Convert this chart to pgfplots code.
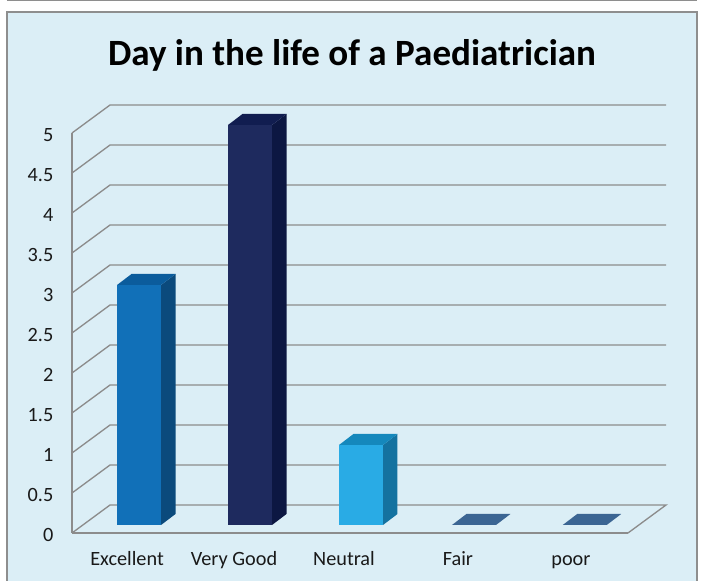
\documentclass[border=0pt]{standalone}
\usepackage{fontspec}
\setmainfont{Carlito}
\usepackage{pgfplots}
\pgfplotsset{compat=1.18}
\definecolor{panel}{HTML}{DBEEF6}
\definecolor{edge}{HTML}{8E8E8E}
\definecolor{gridc}{HTML}{8C8C8C}
\definecolor{excF}{HTML}{1170B8}
\definecolor{excS}{HTML}{0B4A7C}
\definecolor{excT}{HTML}{0B5C9C}
\definecolor{vgF}{HTML}{1E2A5E}
\definecolor{vgS}{HTML}{0C1742}
\definecolor{vgT}{HTML}{111D50}
\definecolor{neuF}{HTML}{29ABE5}
\definecolor{neuS}{HTML}{1472A0}
\definecolor{neuT}{HTML}{1588BC}
\definecolor{flat}{HTML}{3B6593}
\pgfplotsset{
  gl/.style={gridc, line width=1pt},
  face/.style={fill=#1, draw=none},
}
\begin{document}
\begin{tikzpicture}[x=1pt,y=1pt]
% 1px = 0.75pt, axis origin sits at pixel (72,533)
\path[use as bounding box] (-54,-36) rectangle (474,399.75);
\fill[white] (-54,-36) rectangle (474,399.75);
\draw[edge, line width=1.1pt, fill=panel] (-48.75,-45) rectangle (468.75,390.75);
\draw[edge, line width=1pt] (-48.75,399.2) -- (468.75,399.2);
\begin{axis}[
  at={(0,0)}, anchor=origin,
  scale only axis, width=417pt, height=300pt,
  xmin=0, xmax=5, ymin=0, ymax=5,
  clip=false,
  axis x line*=bottom, axis y line*=left,
  axis line style={gridc, line width=1.1pt, -},
  major tick length=0pt,
  xtick={0.495,1.457,2.446,3.47,4.487},
  xticklabels={Excellent,Very Good,Neutral,Fair,poor},
  ytick={0,0.5,1,1.5,2,2.5,3,3.5,4,4.5,5},
  yticklabels={0,0.5,1,1.5,2,2.5,3,3.5,4,4.5,5},
  /pgf/number format/assume math mode=true,
  tick label style={font=\fontsize{15.2}{18}\selectfont, text=black!90},
  xticklabel style={text height=10pt, text depth=3pt, yshift=-10.5pt},
  yticklabel style={xshift=-10.5pt, yshift=-1.75pt},
  title={\fontsize{27.8}{32}\selectfont\bfseries Day in the life of a Paediatrician},
  title style={at={(axis description cs:0.5036,1.175)}, anchor=center},
]
% back wall and floor lines
\addplot[gl] coordinates {(0,0) (0.342,0.35) (5.342,0.35) (5,0)};
\addplot[gl] coordinates {(0,0.5) (0.342,0.85) (5.342,0.85)};
\addplot[gl] coordinates {(0,1) (0.342,1.35) (5.342,1.35)};
\addplot[gl] coordinates {(0,1.5) (0.342,1.85) (5.342,1.85)};
\addplot[gl] coordinates {(0,2) (0.342,2.35) (5.342,2.35)};
\addplot[gl] coordinates {(0,2.5) (0.342,2.85) (5.342,2.85)};
\addplot[gl] coordinates {(0,3) (0.342,3.35) (5.342,3.35)};
\addplot[gl] coordinates {(0,3.5) (0.342,3.85) (5.342,3.85)};
\addplot[gl] coordinates {(0,4) (0.342,4.35) (5.342,4.35)};
\addplot[gl] coordinates {(0,4.5) (0.342,4.85) (5.342,4.85)};
\addplot[gl] coordinates {(0,5) (0.342,5.35) (5.342,5.35)};
% Excellent = 3
\addplot[face=excS] coordinates {(0.801,0.1) (0.931,0.2375) (0.931,3.2375) (0.801,3.1)} -- cycle;
\addplot[face=excT] coordinates {(0.405,3.1) (0.801,3.1) (0.931,3.2375) (0.535,3.2375)} -- cycle;
\addplot[face=excF] coordinates {(0.405,0.1) (0.801,0.1) (0.801,3.1) (0.405,3.1)} -- cycle;
% Very Good = 5
\addplot[face=vgS] coordinates {(1.799,0.1) (1.929,0.2375) (1.929,5.2375) (1.799,5.1)} -- cycle;
\addplot[face=vgT] coordinates {(1.403,5.1) (1.799,5.1) (1.929,5.2375) (1.533,5.2375)} -- cycle;
\addplot[face=vgF] coordinates {(1.403,0.1) (1.799,0.1) (1.799,5.1) (1.403,5.1)} -- cycle;
% Neutral = 1
\addplot[face=neuS] coordinates {(2.797,0.1) (2.927,0.2375) (2.927,1.2375) (2.797,1.1)} -- cycle;
\addplot[face=neuT] coordinates {(2.401,1.1) (2.797,1.1) (2.927,1.2375) (2.531,1.2375)} -- cycle;
\addplot[face=neuF] coordinates {(2.401,0.1) (2.797,0.1) (2.797,1.1) (2.401,1.1)} -- cycle;
% Fair = 0, poor = 0
\addplot[face=flat] coordinates {(3.417,0.1) (3.813,0.1) (3.943,0.2375) (3.547,0.2375)} -- cycle;
\addplot[face=flat] coordinates {(4.413,0.1) (4.809,0.1) (4.939,0.2375) (4.543,0.2375)} -- cycle;
\end{axis}
\end{tikzpicture}
\end{document}
